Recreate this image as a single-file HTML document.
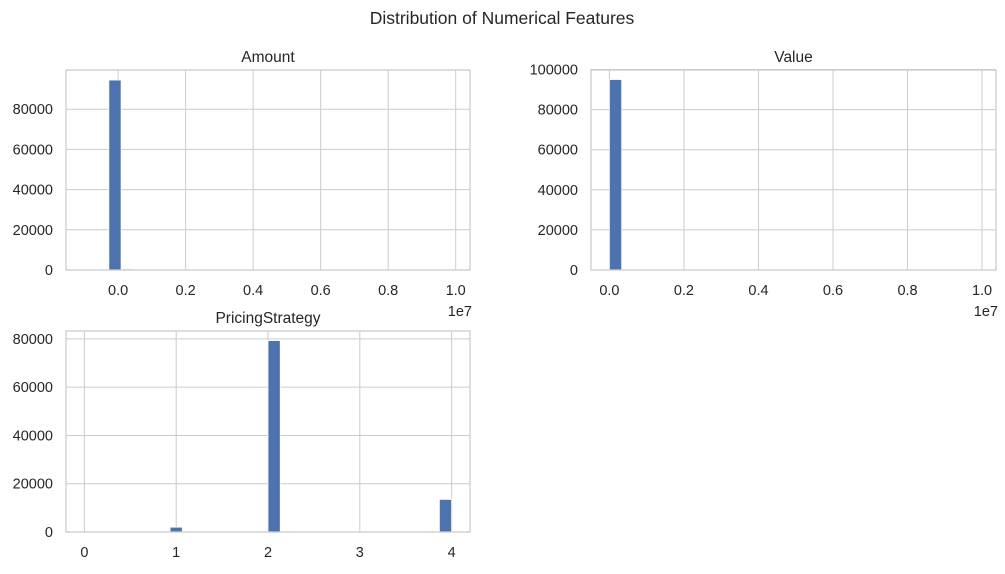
<!DOCTYPE html>
<html><head><meta charset="utf-8"><style>
body{margin:0;background:#fff;font-family:"Liberation Sans","DejaVu Sans",sans-serif}
svg text{fill:#262626;font-family:"Liberation Sans","DejaVu Sans",sans-serif}
</style></head><body>
<svg id="fig" width="1005" height="569">
<text x="502" y="24" text-anchor="middle" font-size="17.5">Distribution of Numerical Features</text>
</svg>
<script>
// Amount histogram
const amountRange = [-1000000, 9880000];
const amountCounts = [0,0,94500,500,100,0,0,0,0,0,0,0,0,0,0,0,0,0,0,0,0,0,0,0,0,0,0,0,0,10];
const amountXTicks = [0,0.2,0.4,0.6,0.8,1.0];
const amountYTicks = [0,20000,40000,60000,80000];
// Value histogram
const valueRange = [0, 9880000];
const valueCounts = [95000,300,100,0,0,0,0,0,0,0,0,0,0,0,0,0,0,0,0,0,0,0,0,0,0,0,0,0,0,10];
const valueXTicks = [0,0.2,0.4,0.6,0.8,1.0];
const valueYTicks = [0,20000,40000,60000,80000,100000];
// PricingStrategy histogram
const pricingRange = [0, 4];
const pricingCounts = [0,0,0,0,0,0,0,2000,0,0,0,0,0,0,0,79300,0,0,0,0,0,0,0,0,0,0,0,0,0,13500];
const pricingXTicks = [0,1,2,3,4];
const pricingYTicks = [0,20000,40000,60000,80000];

const NS="http://www.w3.org/2000/svg";
const fig=document.getElementById('fig');
function mk(tag,attrs,parent){const e=document.createElementNS(NS,tag);for(const k in attrs)e.setAttribute(k,attrs[k]);(parent||fig).appendChild(e);return e;}

function hist(o){
  const g=mk('g',{});
  
  
  const [x0,x1,y0,y1]=o.box;
  const span=o.range[1]-o.range[0];
  const xmin=o.range[0]-span*0.05, xmax=o.range[1]+span*0.05;
  const maxC=Math.max(...o.counts);
  const ymax=o.ymax||maxC*1.05;
  const sx=v=>x0+(v-xmin)/(xmax-xmin)*(x1-x0);
  const sy=v=>y1-v/ymax*(y1-y0);
  mk('rect',{x:x0,y:y0,width:x1-x0,height:y1-y0,fill:'#fff'},g);
  o.yt.forEach(t=>{const y=sy(t);
    mk('line',{x1:x0,x2:x1,y1:y,y2:y,stroke:'#cccccc','stroke-width':1},g);
    const tx=mk('text',{x:x0-13,y:y+5,'text-anchor':'end','font-size':14.5},g);tx.textContent=t;
    
    });
  o.xt.forEach(t=>{const x=sx(t*o.xscale);
    mk('line',{x1:x,x2:x,y1:y0,y2:y1,stroke:'#cccccc','stroke-width':1},g);
    const tx=mk('text',{x:x,y:y1+25,'text-anchor':'middle','font-size':14.5},g);tx.textContent=o.xscale>1?t.toFixed(1):t;
    
    });
  const n=o.counts.length,w=span/n;
  o.counts.forEach((c,i)=>{ if(c<=0)return;
    const a=sx(o.range[0]+i*w),b=sx(o.range[0]+(i+1)*w);
    const r=mk('rect',{x:a,y:sy(c),width:b-a,height:y1-sy(c),fill:'#4c72b0',stroke:'#fff','stroke-width':0.8},g);
    
    });
  mk('rect',{x:x0,y:y0,width:x1-x0,height:y1-y0,fill:'none',stroke:'#cccccc','stroke-width':1.3},g);
  const ti=mk('text',{x:(x0+x1)/2,y:y0-8,'text-anchor':'middle','font-size':15.5},g);ti.textContent=o.title;
  
  
  if(o.xscale>1){const ex=mk('text',{x:x1+2,y:y1+46,'text-anchor':'end','font-size':14.5},g);ex.textContent='1e7';
    
    }
}
hist({name:'amount',title:'Amount',box:[66,470,70,270],range:amountRange,counts:amountCounts,xt:amountXTicks,yt:amountYTicks,xscale:1e7,ymax:99500});
hist({name:'value',title:'Value',box:[591,996,70,270],range:valueRange,counts:valueCounts,xt:valueXTicks,yt:valueYTicks,xscale:1e7,ymax:99750});
hist({name:'pricing-strategy',title:'PricingStrategy',box:[66,470,331,532],range:pricingRange,counts:pricingCounts,xt:pricingXTicks,yt:pricingYTicks,xscale:1,ymax:83265});
</script>
</body></html>
